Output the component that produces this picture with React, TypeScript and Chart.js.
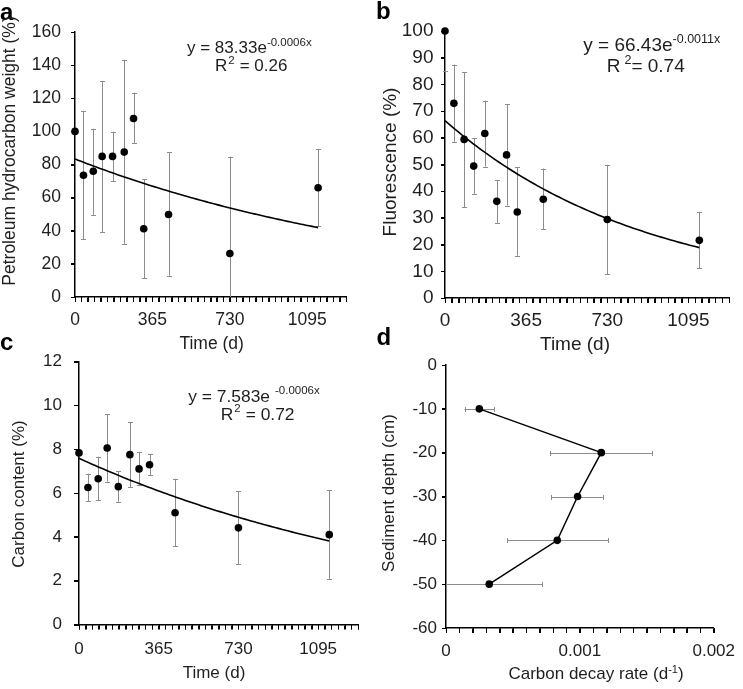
import React, { useEffect, useRef } from "react";
import { Chart, registerables } from "chart.js";

Chart.register(...registerables);

const FONT = "'Liberation Sans', Arial, Helvetica, sans-serif";
const INK = "#1e1e1e";
const ERR_COLOR = "#8c8c8c";

// ---------- tick labels ----------
const timeTickLabels = ["0", "365", "730", "1095"];
const decayTickLabels = ["0", "0.001", "0.002"];

// ---------- panel a: petroleum hydrocarbon weight ----------
const daysA = [0, 40, 86, 128, 177, 232, 276, 324, 441, 730, 1146];
const weightA = [100, 73.5, 75.9, 84.9, 84.9, 87.5, 107.8, 41.2, 49.8, 26.3, 66];
const weightHiA = [null, 112.4, 101.6, 130.5, 99.8, 143.2, 123.3, 71.1, 87.3, 84.7, 89.3];
const weightLoA = [null, 34.9, 49.6, 39.2, 69.9, 32.1, 92.8, 11.4, 12.9, -32, 42.7];
const fitA = { a: 83.33, k: -0.0006 };
const eqA = { coef: "83.33", exp: "-0.0006x", r2: "0.26" };

// ---------- panel b: fluorescence ----------
const daysB = [0, 40, 86, 129, 179, 233, 277, 325, 442, 730, 1144];
const fluorB = [100, 72.9, 59.4, 49.4, 61.6, 36.2, 53.6, 32.2, 37, 29.4, 21.6];
const fluorHiB = [115, 87.4, 84.6, 59.8, 73.9, 44.2, 72.5, 48.9, 48.5, 49.9, 32.2];
const fluorLoB = [85, 58.5, 34, 39, 49.2, 28, 34.6, 15.9, 25.7, 8.9, 11.2];
const fitB = { a: 66.43, k: -0.0011 };
const eqB = { coef: "66.43", exp: "-0.0011x", r2: "0.74" };

// ---------- panel c: carbon content ----------
const daysC = [0, 41, 88, 129, 180, 233, 275, 323, 440, 730, 1146];
const carbonC = [7.83, 6.25, 6.65, 8.05, 6.29, 7.75, 7.1, 7.29, 5.1, 4.41, 4.1];
const carbonHiC = [null, 6.88, 7.66, 9.6, 7.0, 9.23, 7.85, 7.78, 6.65, 6.08, 6.14];
const carbonLoC = [null, 5.63, 5.66, 6.52, 5.6, 6.26, 6.38, 6.8, 3.58, 2.77, 2.08];
const fitC = { a: 7.583, k: -0.0006 };
const eqC = { coef: "7.583", exp: "-0.0006x", r2: "0.72" };

// ---------- panel d: carbon decay rate vs depth ----------
const depthD = [-10, -20, -30, -40, -50];
const decayD = [0.000249, 0.00116, 0.000983, 0.000831, 0.000323];
const decayLoD = [0.000139, 0.000775, 0.000785, 0.000457, -0.000073];
const decayHiD = [0.000362, 0.001538, 0.001176, 0.00121, 0.000719];

const TIME_MAX = 1277.5;
const timeTicks = Array.from({ length: 43 }, (_, i) => (i * 365) / 12);
const decayTicks = Array.from({ length: 21 }, (_, i) => i * 0.0001);

function trend(a: number, k: number, x0: number, x1: number) {
  const pts: { x: number; y: number }[] = [];
  const n = 80;
  for (let i = 0; i <= n; i++) {
    const x = x0 + ((x1 - x0) * i) / n;
    pts.push({ x, y: a * Math.exp(k * x) });
  }
  return pts;
}

type Panel = {
  left: number;
  top: number;
  w: number;
  h: number;
  area: { l: number; t: number; r: number; b: number };
  fs: number;
  xMin: number;
  xMax: number;
  xTicks: number[];
  xLabel: (i: number) => string;
  yMin: number;
  yMax: number;
  yStep: number;
  yTickLen: number;
  yPad: number;
  xPad: number;
  xs: number[];
  ys: number[];
  lo: (number | null)[];
  hi: (number | null)[];
  horizontal: boolean;
  curve?: { x: number; y: number }[];
  connect: boolean;
};

function ChartPanel({ p }: { p: Panel }) {
  const ref = useRef<HTMLCanvasElement>(null);
  useEffect(() => {
    const canvas = ref.current!;
    const errorBars = {
      id: "errorBars",
      beforeDatasetsDraw(chart: any) {
        const { ctx, chartArea: ca, scales } = chart;
        const x = scales.x;
        const y = scales.y;
        ctx.save();
        ctx.beginPath();
        if (p.horizontal) ctx.rect(ca.left, ca.top - 10, ca.right - ca.left, ca.bottom - ca.top + 20);
        else ctx.rect(ca.left - 10, ca.top, ca.right - ca.left + 20, ca.bottom - ca.top);
        ctx.clip();
        ctx.strokeStyle = ERR_COLOR;
        ctx.lineWidth = 1;
        const cap = 2.5;
        for (let i = 0; i < p.xs.length; i++) {
          const lo = p.lo[i];
          const hi = p.hi[i];
          if (lo == null || hi == null) continue;
          ctx.beginPath();
          if (p.horizontal) {
            const py = Math.round(y.getPixelForValue(p.ys[i])) + 0.5;
            const x1 = x.getPixelForValue(lo);
            const x2 = x.getPixelForValue(hi);
            ctx.moveTo(x1, py);
            ctx.lineTo(x2, py);
            for (const xx of [x1, x2]) {
              const px = Math.round(xx) + 0.5;
              ctx.moveTo(px, py - cap);
              ctx.lineTo(px, py + cap);
            }
          } else {
            const px = Math.round(x.getPixelForValue(p.xs[i])) + 0.5;
            const y1 = y.getPixelForValue(lo);
            const y2 = y.getPixelForValue(hi);
            ctx.moveTo(px, y1);
            ctx.lineTo(px, y2);
            for (const yy of [y1, y2]) {
              const py = Math.round(yy) + 0.5;
              ctx.moveTo(px - cap, py);
              ctx.lineTo(px + cap, py);
            }
          }
          ctx.stroke();
        }
        ctx.restore();
      },
    };

    // outward tick marks on both axes (Excel style)
    const tickMarks = {
      id: "tickMarks",
      afterDraw(chart: any) {
        const { ctx, chartArea: ca, scales } = chart;
        const x = scales.x;
        const y = scales.y;
        ctx.save();
        ctx.strokeStyle = "#000";
        ctx.lineWidth = 1;
        ctx.beginPath();
        for (const v of p.xTicks) {
          const px = Math.round(x.getPixelForValue(v)) + 0.5;
          ctx.moveTo(px, ca.bottom);
          ctx.lineTo(px, ca.bottom + 5);
        }
        for (const t of y.ticks) {
          const py = Math.round(y.getPixelForValue(t.value)) + 0.5;
          ctx.moveTo(ca.left - p.yTickLen, py);
          ctx.lineTo(ca.left, py);
        }
        ctx.stroke();
        ctx.restore();
      },
    };

    const points = p.xs.map((x, i) => ({ x, y: p.ys[i] }));
    const datasets: any[] = [
      {
        data: points,
        showLine: p.connect,
        borderColor: "#000",
        borderWidth: 1.5,
        pointRadius: 3.8,
        pointBackgroundColor: "#000",
        pointBorderColor: "#000",
        pointBorderWidth: 0,
        clip: false,
      },
    ];
    if (p.curve) {
      datasets.push({
        data: p.curve,
        showLine: true,
        borderColor: "#000",
        borderWidth: 1.6,
        pointRadius: 0,
        tension: 0,
      });
    }

    const tickFont = { family: FONT, size: p.fs };
    const chart = new Chart(canvas, {
      type: "scatter",
      data: { datasets },
      options: {
        animation: false,
        responsive: false,
        maintainAspectRatio: false,
        events: [],
        layout: { padding: { left: 0, top: p.area.t, right: p.w - p.area.r, bottom: 0 } },
        plugins: { legend: { display: false }, tooltip: { enabled: false } },
        scales: {
          x: {
            type: "linear",
            min: p.xMin,
            max: p.xMax,
            afterFit: (s: any) => {
              s.height = p.h - p.area.b;
            },
            afterBuildTicks: (s: any) => {
              s.ticks = p.xTicks.map((v) => ({ value: v }));
            },
            ticks: {
              autoSkip: false,
              maxRotation: 0,
              minRotation: 0,
              padding: p.xPad,
              color: INK,
              font: tickFont,
              callback: (_v: any, i: number) => p.xLabel(i),
            },
            grid: {
              drawOnChartArea: false,
              drawTicks: true,
              tickLength: 5,
              color: "#000",
              tickColor: "#000",
              tickWidth: 1,
              lineWidth: 1,
            },
            border: { display: true, color: "#000", width: 1.5 },
          },
          y: {
            type: "linear",
            min: p.yMin,
            max: p.yMax,
            afterFit: (s: any) => {
              s.width = p.area.l;
            },
            ticks: {
              stepSize: p.yStep,
              padding: p.yPad,
              color: INK,
              font: tickFont,
              callback: (v: any) => String(v),
            },
            grid: {
              drawOnChartArea: false,
              drawTicks: true,
              tickLength: p.yTickLen,
              color: "#000",
              tickColor: "#000",
              tickWidth: 1,
              lineWidth: 1,
            },
            border: { display: true, color: "#000", width: 1.5 },
          },
        },
      } as any,
      plugins: [errorBars, tickMarks],
    });
    return () => chart.destroy();
  }, []);
  return (
    <canvas
      ref={ref}
      width={p.w}
      height={p.h}
      style={{ position: "absolute", left: p.left, top: p.top, width: p.w, height: p.h }}
    />
  );
}

const timeLabel = (i: number) => (i % 12 === 0 ? timeTickLabels[i / 12] : "");
const decayLabel = (i: number) => (i % 10 === 0 ? decayTickLabels[i / 10] : "");

const panelA: Panel = {
  left: 0, top: 0, w: 360, h: 335,
  area: { l: 75, t: 32, r: 346, b: 297 },
  fs: 17.5,
  xMin: 0, xMax: TIME_MAX, xTicks: timeTicks, xLabel: timeLabel,
  yMin: 0, yMax: 160, yStep: 20, yTickLen: 4, yPad: 10, xPad: 7.5,
  xs: daysA, ys: weightA, lo: weightLoA, hi: weightHiA, horizontal: false,
  curve: trend(fitA.a, fitA.k, 0, daysA[daysA.length - 1]), connect: false,
};
const panelB: Panel = {
  left: 370, top: 0, w: 373, h: 335,
  area: { l: 75, t: 31, r: 359, b: 298 },
  fs: 19,
  xMin: 0, xMax: TIME_MAX, xTicks: timeTicks, xLabel: timeLabel,
  yMin: 0, yMax: 100, yStep: 10, yTickLen: 4, yPad: 7.5, xPad: 6.5,
  xs: daysB, ys: fluorB, lo: fluorLoB, hi: fluorHiB, horizontal: false,
  curve: trend(fitB.a, fitB.k, 0, daysB[daysB.length - 1]), connect: false,
};
const panelC: Panel = {
  left: 0, top: 335, w: 370, h: 335,
  area: { l: 79, t: 26.5, r: 358, b: 289.5 },
  fs: 17,
  xMin: 0, xMax: TIME_MAX, xTicks: timeTicks, xLabel: timeLabel,
  yMin: 0, yMax: 12, yStep: 2, yTickLen: 5, yPad: 12, xPad: 10,
  xs: daysC, ys: carbonC, lo: carbonLoC, hi: carbonHiC, horizontal: false,
  curve: trend(fitC.a, fitC.k, 0, daysC[daysC.length - 1]), connect: false,
};
const panelD: Panel = {
  left: 370, top: 335, w: 373, h: 335,
  area: { l: 76, t: 30, r: 352, b: 293 },
  fs: 17,
  xMin: 0, xMax: 0.002, xTicks: decayTicks, xLabel: decayLabel,
  yMin: -60, yMax: 0, yStep: 10, yTickLen: 4, yPad: 5, xPad: 8,
  xs: decayD, ys: depthD, lo: decayLoD, hi: decayHiD, horizontal: true,
  connect: true,
};

const txt = (fs: number): React.CSSProperties => ({
  position: "absolute",
  fontFamily: FONT,
  fontSize: fs,
  lineHeight: `${fs}px`,
  color: INK,
  whiteSpace: "nowrap",
});

function Letter({ ch, x, base }: { ch: string; x: number; base: number }) {
  return (
    <div style={{ ...txt(24), left: x, top: base - 20.3, fontWeight: "bold", color: "#000" }}>{ch}</div>
  );
}

function YTitle({ text, cx, cy, fs }: { text: string; cx: number; cy: number; fs: number }) {
  return (
    <div style={{ ...txt(fs), left: cx, top: cy, transform: "translate(-50%, -50%) rotate(-90deg)" }}>{text}</div>
  );
}

function XTitle({ children, cx, cy, fs }: { children: React.ReactNode; cx: number; cy: number; fs: number }) {
  return <div style={{ ...txt(fs), left: cx, top: cy, transform: "translate(-50%, -50%)" }}>{children}</div>;
}

function Equation({
  eq, x, base, fs, supFs, raise, gap, rx, rbase, rGapBefore, rGapAfter,
}: {
  eq: { coef: string; exp: string; r2: string };
  x: number; base: number; fs: number; supFs: number; raise: number; gap: number;
  rx: number; rbase: number; rGapBefore: number; rGapAfter: number;
}) {
  const off = 0.8465 * fs;
  return (
    <>
      <div style={{ ...txt(fs), left: x, top: base - off }}>
        {"y = " + eq.coef + "e"}
        <span style={{ fontSize: supFs, position: "relative", top: -raise, marginLeft: gap }}>{eq.exp}</span>
      </div>
      <div style={{ ...txt(fs), left: rx, top: rbase - off }}>
        R
        <span style={{ fontSize: supFs, position: "relative", top: -raise, marginLeft: rGapBefore, marginRight: rGapAfter }}>2</span>
        {"= " + eq.r2}
      </div>
    </>
  );
}

export default function App() {
  return (
    <div
      style={{
        position: "absolute",
        left: 0,
        top: 0,
        width: 743,
        height: 689,
        background: "#fff",
        overflow: "hidden",
      }}
    >
      <ChartPanel p={panelA} />
      <ChartPanel p={panelB} />
      <ChartPanel p={panelC} />
      <ChartPanel p={panelD} />

      <Letter ch="a" x={0} base={20} />
      <Letter ch="b" x={376} base={19.5} />
      <Letter ch="c" x={0} base={350} />
      <Letter ch="d" x={376.5} base={345} />

      <YTitle text="Petroleum hydrocarbon weight (%)" cx={10} cy={150.7} fs={17.5} />
      <YTitle text="Fluorescence (%)" cx={389} cy={161.7} fs={19} />
      <YTitle text="Carbon content (%)" cx={18.3} cy={494} fs={17} />
      <YTitle text="Sediment depth (cm)" cx={388.3} cy={492.5} fs={17} />

      <XTitle cx={211.7} cy={343.5} fs={17.5}>Time (d)</XTitle>
      <XTitle cx={575} cy={343} fs={19}>Time (d)</XTitle>
      <XTitle cx={214} cy={671.5} fs={17}>Time (d)</XTitle>
      <XTitle cx={596} cy={674} fs={17}>
        Carbon decay rate (d<span style={{ fontSize: 11, position: "relative", top: -6 }}>-1</span>)
      </XTitle>

      <Equation eq={eqA} x={187} base={53.5} fs={17} supFs={11.5} raise={7} gap={0}
        rx={215} rbase={71.7} rGapBefore={1} rGapAfter={5} />
      <Equation eq={eqB} x={583.3} base={51.5} fs={19} supFs={12.5} raise={8} gap={0}
        rx={606.7} rbase={72} rGapBefore={4} rGapAfter={0} />
      <Equation eq={eqC} x={188.3} base={402.3} fs={17.4} supFs={11.5} raise={8} gap={5}
        rx={220.7} rbase={421} rGapBefore={1} rGapAfter={5} />
    </div>
  );
}
